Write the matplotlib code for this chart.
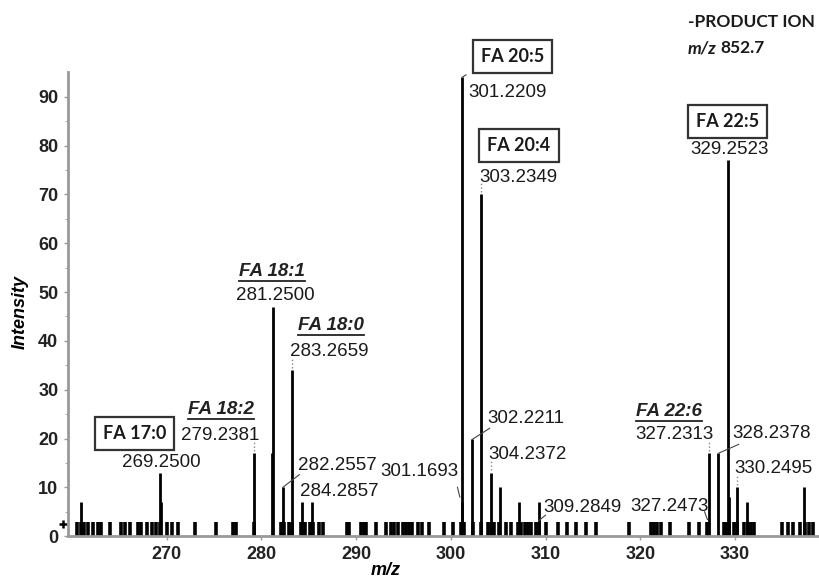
import matplotlib
matplotlib.use("Agg")
import matplotlib.pyplot as plt
from matplotlib.lines import Line2D
from matplotlib.transforms import blended_transform_factory

# Labelled peaks (m/z, relative intensity)
peak_mz = [260.9, 269.25, 269.35, 279.2381, 281.15, 281.25, 282.2557, 283.2659,
           284.2857, 285.3, 301.1693, 301.2209, 302.2211, 303.2349, 304.2372,
           305.2, 307.2, 309.2849, 327.2313, 328.2378, 329.2523, 329.35,
           330.2495, 331.25, 337.3]
peak_int = [7, 13, 7, 17, 17, 47, 10, 34,
            7, 7, 7, 94, 20, 70, 13,
            10, 7, 7, 17, 17, 77, 8,
            10, 7, 10]

# Low-level background ions
noise_mz = [260.5, 260.95, 261.1, 261.3, 261.7, 262.2, 262.75, 263.1, 264.0,
            265.2, 265.6, 266.1, 267.0, 267.3, 267.9, 268.4, 268.9, 269.3,
            270.0, 270.5, 271.2, 273.0, 275.2, 277.0, 277.3, 279.2,
            282.1, 282.35, 282.9, 283.2, 284.2, 284.6, 285.1, 285.4, 286.1, 286.5,
            289.0, 289.2, 290.5, 290.8, 291.0, 292.1, 293.1, 293.7, 294.0, 294.4,
            294.9, 295.3, 295.6, 295.9, 296.5, 297.0, 297.7, 299.3, 300.2,
            301.1, 301.4, 302.3, 303.2, 303.9, 304.2, 304.6, 305.1, 305.8, 306.4,
            307.1, 307.4, 307.8, 308.1, 308.5, 309.0, 309.35, 310.05, 311.3,
            312.3, 313.2, 314.3, 315.3, 318.85, 321.1, 321.5, 321.8, 322.2,
            323.2, 325.2, 326.2, 327.1, 328.9, 329.1, 329.4, 329.9, 330.2,
            331.0, 331.4, 331.7, 332.0, 335.0, 335.6, 336.1, 336.9, 337.4,
            337.8, 338.2]
noise_int = [3] * len(noise_mz)

# Peak annotations: text, x, y
mass_labels = [
    ("269.2500", 269.4, 15.0), ("279.2381", 275.6, 20.6), ("281.2500", 281.5, 49.2),
    ("283.2659", 287.2, 37.9), ("282.2557", 288.0, 14.4), ("284.2857", 288.2, 9.1),
    ("301.1693", 296.7, 13.2), ("301.2209", 306.0, 90.9), ("303.2349", 307.1, 73.5),
    ("302.2211", 307.9, 24.1), ("304.2372", 308.1, 16.8), ("309.2849", 313.9, 5.9),
    ("327.2313", 323.6, 20.9), ("327.2473", 323.1, 6.1), ("328.2378", 333.9, 21.1),
    ("330.2495", 334.1, 13.8), ("329.2523", 329.4, 79.1),
]
boxed_names = [("FA 17:0", 266.6, 21.0), ("FA 20:5", 306.5, 98.2),
               ("FA 20:4", 307.2, 80.0), ("FA 22:5", 329.2, 85.0)]
underlined_names = [("FA 18:2", 275.7, 25.9), ("FA 18:1", 281.1, 54.3),
                    ("FA 18:0", 287.3, 43.1), ("FA 22:6", 323.0, 25.5)]

# leader lines from peak top to its label
leaders = [((282.25, 10), (284.0, 12.6)), ((300.95, 8.0), (300.7, 10.0)),
           ((302.25, 19.8), (304.1, 22.1)), ((309.3, 3.2), (310.0, 4.3)),
           ((327.1, 3.4), (326.8, 5.0)), ((328.3, 17.0), (330.4, 18.8)),
           ((301.2, 94), (301.6, 94.5))]
dotted = [(279.24, 17.5, 19.5), (283.27, 34.5, 36.5), (303.23, 70.5, 72.5),
          (304.24, 13.5, 15.5), (327.23, 17.5, 19.5), (330.25, 10.5, 12.5)]

plt.rcParams['font.family'] = ['Liberation Sans', 'DejaVu Sans']

fig = plt.figure(figsize=(8.19, 5.79), dpi=100)
ax = fig.add_axes([0.083, 0.074, 0.916, 0.801])

ax.vlines(noise_mz, 0, noise_int, color='black', lw=2.6)
ax.vlines(peak_mz, 0, peak_int, color='black', lw=2.0)

for (x0, y0), (x1, y1) in leaders:
    ax.plot([x0, x1], [y0, y1], color='#444444', lw=0.8)
for x, y0, y1 in dotted:
    ax.plot([x, x], [y0, y1], color='#888888', lw=1.0, ls=':')

for txt, x, y in mass_labels:
    ax.text(x, y, txt, ha='center', va='center', fontsize=13.5, color='#1a1a1a')

for txt, x, y in boxed_names:
    ax.text(x, y, txt, ha='center', va='center', fontsize=13, fontweight='bold',
            family=['Lato', 'DejaVu Sans'], color='#1a1a1a',
            bbox=dict(boxstyle='square,pad=0.45', fc='white', ec='#333333', lw=1.6))

under_texts = []
for txt, x, y in underlined_names:
    t = ax.text(x, y, txt, ha='center', va='center', fontsize=13.5,
                fontweight='bold', fontstyle='italic', color='#222222')
    under_texts.append(t)

ax.set_xlim(259.56, 338.8)
ax.set_ylim(0, 95)
ax.set_xticks([270, 280, 290, 300, 310, 320, 330])
ax.set_yticks(range(0, 91, 10))
ax.set_yticks(range(5, 95, 10), minor=True)
for lab in ax.get_xticklabels() + ax.get_yticklabels():
    lab.set_fontweight('bold')
    lab.set_fontsize(13)
    lab.set_color('#222222')
ax.tick_params(axis='both', length=3, width=1, color='#999999', pad=4)
ax.tick_params(axis='y', which='minor', length=2, color='#999999')

for side in ('top', 'right'):
    ax.spines[side].set_visible(False)
for side in ('left', 'bottom'):
    ax.spines[side].set_color('#999999')
    ax.spines[side].set_linewidth(2)

ax.set_xlabel('m/z', fontsize=13, fontweight='bold', fontstyle='italic')
ax.xaxis.set_label_coords(0.423, -0.055)
ax.set_ylabel('Intensity', fontsize=13, fontweight='bold', fontstyle='italic')
ax.yaxis.set_label_coords(-0.052, 0.483)

# threshold marker next to the origin
trans = blended_transform_factory(ax.transAxes, ax.transData)
ax.plot([-0.006], [2.5], marker='+', ms=6, mew=1.8, color='black',
        transform=trans, clip_on=False)

fig.text(0.84, 0.962, '-PRODUCT ION', fontsize=12.5, fontweight='bold',
         family=['Lato', 'DejaVu Sans'], va='center', color='#1a1a1a')
fig.text(0.84, 0.917, 'm/z', fontsize=12.5, fontweight='bold', fontstyle='italic',
         family=['Lato', 'DejaVu Sans'], va='center', color='#1a1a1a')
fig.text(0.88, 0.917, '852.7', fontsize=12.5, fontweight='bold',
         family=['Lato', 'DejaVu Sans'], va='center', color='#1a1a1a')

# underline the italic fatty-acid names
fig.canvas.draw()
renderer = fig.canvas.get_renderer()
W, H = fig.get_size_inches() * fig.dpi
for t in under_texts:
    bb = t.get_window_extent(renderer)
    yline = bb.y0 - 1
    fig.add_artist(Line2D([bb.x0 / W, bb.x1 / W], [yline / H] * 2,
                          transform=fig.transFigure, color='#222222', lw=1.3))

fig.savefig('out.png', dpi=100)
